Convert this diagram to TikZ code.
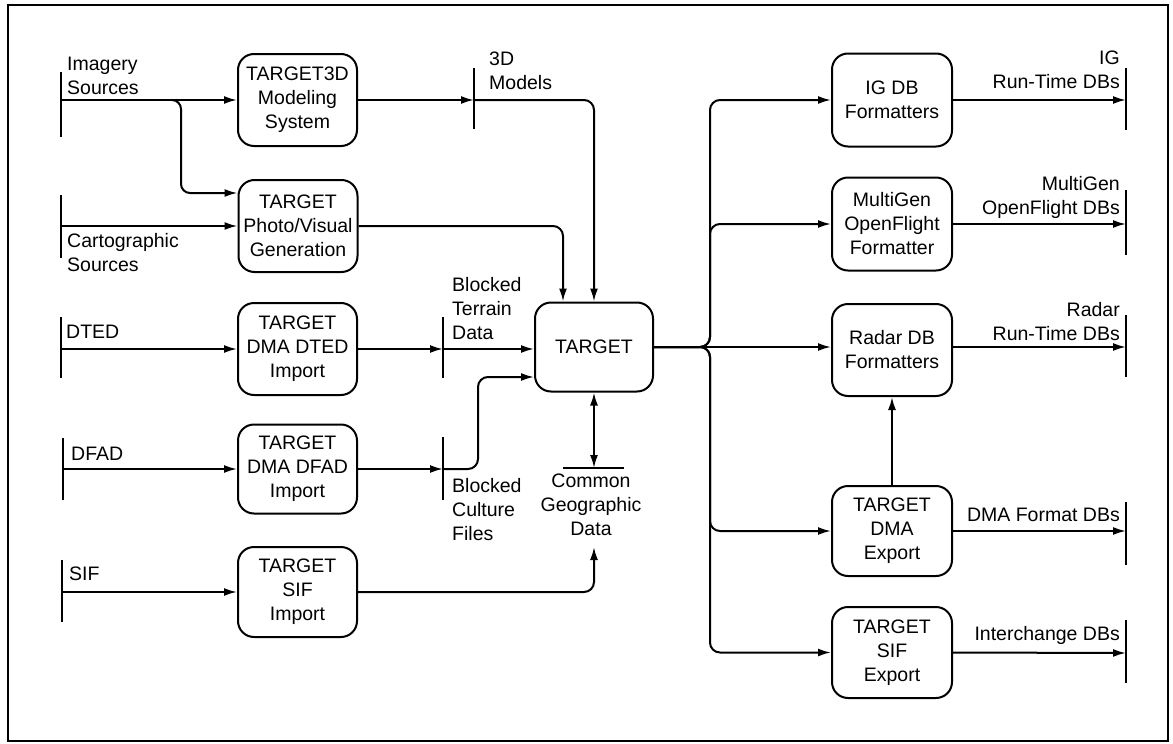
\documentclass[tikz,border=0pt]{standalone}
\usepackage{fontspec}
\setmainfont{Liberation Sans}
\usetikzlibrary{arrows.meta}
\begin{document}
\begin{tikzpicture}[x=1pt,y=-1pt,
  font=\fontsize{19.5}{24}\selectfont,
  proc/.style={draw,line width=2pt,rounded corners=16pt,minimum width=119pt,minimum height=92pt,align=center,inner sep=0pt},
  flow/.style={line width=2pt,-{Latex[length=13pt,width=8pt]},rounded corners=10pt},
  dflow/.style={line width=2pt,{Latex[length=13pt,width=8pt]}-{Latex[length=13pt,width=8pt]}},
  bar/.style={line width=2pt},
  lbl/.style={align=left,inner sep=0pt,anchor=north west},
  rlbl/.style={align=right,inner sep=0pt,anchor=north east},
  clbl/.style={align=center,inner sep=0pt,anchor=north}
]
\useasboundingbox (0,0) rectangle (1173,744);
\draw[line width=1.6pt] (8,5) rectangle (1168,741);

% process boxes
\node[proc] (t3d) at (297.5,100) {TARGET3D\\Modeling\\System};
\node[proc] (photo) at (298,226) {TARGET\\Photo/Visual\\Generation};
\node[proc] (dted) at (297.5,349) {TARGET\\DMA DTED\\Import};
\node[proc,minimum height=89pt] (dfad) at (297.5,469) {TARGET\\DMA DFAD\\Import};
\node[proc,minimum height=90pt] (sifimp) at (297.5,592) {TARGET\\SIF\\Import};
\node[proc,minimum width=118pt,minimum height=89pt] (target) at (594,347) {TARGET};
\node[proc,minimum width=120pt,minimum height=93pt] (igdb) at (892,100) {IG DB\\Formatters};
\node[proc,minimum width=120pt,minimum height=93pt] (multigen) at (892,224) {MultiGen\\OpenFlight\\Formatter};
\node[proc,minimum width=120pt] (radar) at (892,350) {Radar DB\\Formatters};
\node[proc,minimum width=120pt,minimum height=90pt] (dmaexp) at (892,531) {TARGET\\DMA\\Export};
\node[proc,minimum width=120pt,minimum height=91pt] (sifexp) at (892,652.5) {TARGET\\SIF\\Export};

% store bars (left)
\coordinate (img) at (61,100);   \draw[bar] (61,72) -- (61,137);
\coordinate (cart) at (61,226);  \draw[bar] (61,195) -- (61,258);
\coordinate (dtedsrc) at (61,349); \draw[bar] (61,317) -- (61,378);
\coordinate (dfadsrc) at (63,469); \draw[bar] (63,438) -- (63,500);
\coordinate (sifsrc) at (62,592); \draw[bar] (62,560) -- (62,622);
% middle bars
\coordinate (m3d) at (474,100); \draw[bar] (474,68) -- (474,129);
\coordinate (terr) at (443,349); \draw[bar] (443,317) -- (443,378);
\coordinate (cult) at (443,469); \draw[bar] (443,437) -- (443,500);
\coordinate (cgd) at (594,468); \draw[bar] (563,468) -- (624,468);
% right bars
\coordinate (igout) at (1126,100); \draw[bar] (1126,68) -- (1126,130);
\coordinate (mgout) at (1126,224); \draw[bar] (1126,190) -- (1126,255);
\coordinate (radout) at (1126,347); \draw[bar] (1126,315) -- (1126,377);
\coordinate (dmaout) at (1126,531); \draw[bar] (1126,502) -- (1126,565);
\coordinate (intout) at (1126,653); \draw[bar] (1126,620) -- (1126,683);

% labels
\node[lbl] at (67,57) {Imagery\\Sources};
\node[lbl] at (67,233) {Cartographic\\Sources};
\node[lbl] at (66,325) {DTED};
\node[lbl] at (71,447) {DFAD};
\node[lbl] at (69,567) {SIF};
\node[lbl] at (489,52) {3D\\Models};
\node[lbl] at (452,277) {Blocked\\Terrain\\Data};
\node[lbl] at (452,478) {Blocked\\Culture\\Files};
\node[clbl] at (591,474) {Common\\Geographic\\Data};
\node[rlbl] at (1120,51) {IG\\Run-Time DBs};
\node[rlbl] at (1120,176) {MultiGen\\OpenFlight DBs};
\node[rlbl] at (1120,302) {Radar\\Run-Time DBs};
\node[rlbl] at (1120,508) {DMA Format DBs};
\node[rlbl] at (1120,626) {Interchange DBs};

% connectors left
\coordinate (imgsplit) at (172,100);
\draw[flow] (img) -- (t3d.west);
\draw[flow,rounded corners=9pt] (imgsplit) -| ++(9,93) -- ([yshift=33pt]photo.west);
\draw[flow] (cart) -- (photo.west);
\draw[flow] (dtedsrc) -- (dted.west);
\draw[flow] (dfadsrc) -- (dfad.west);
\draw[flow] (sifsrc) -- (sifimp.west);

% connectors middle
\draw[flow] (t3d.east) -- (m3d);
\draw[flow] (m3d) -| (target.north);
\draw[flow] (photo.east) -| ([xshift=-31pt]target.north);
\draw[flow] (dted.east) -- (terr);
\draw[flow] (terr) -- (target.west |- terr);
\draw[flow] (dfad.east) -- (cult);
\draw[flow] (cult) -- ++(35,0) |- ([yshift=-30pt]target.west);
\draw[dflow] (target.south) -- (cgd);
\coordinate (cgdin) at (594,547);
\draw[flow] (sifimp.east) -| (cgdin);

% connectors right
\coordinate (trunk) at (710,347);
\draw[flow] (target.east) -- (trunk) |- (igdb.west);
\draw[flow] (target.east) -- (trunk) |- (multigen.west);
\draw[flow] (target.east) -- (radar.west |- target.east);
\draw[flow] (target.east) -- (trunk) |- (dmaexp.west);
\draw[flow] (target.east) -- (trunk) |- (sifexp.west);
\draw[flow] (dmaexp.north) -- (radar.south);

\draw[flow] (igdb.east) -- (igout);
\draw[flow] (multigen.east) -- (mgout);
\draw[flow] (radar.east |- radout) -- (radout);
\draw[flow] (dmaexp.east) -- (dmaout);
\draw[flow] (sifexp.east) -- (intout);
\end{tikzpicture}
\end{document}
